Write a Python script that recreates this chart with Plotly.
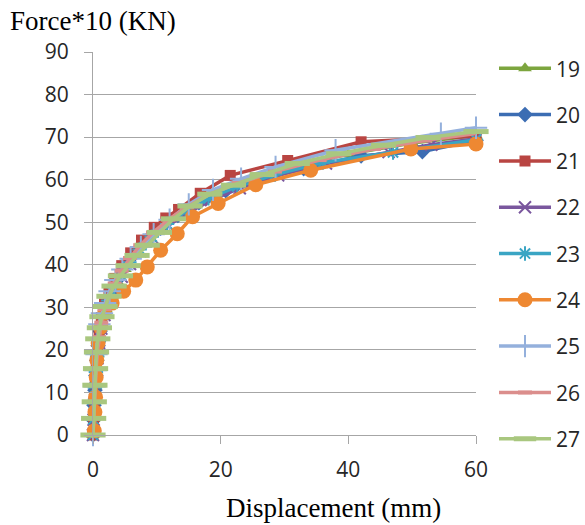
import plotly.graph_objects as go

names = ["19", "20", "21", "22", "23", "24", "25", "26", "27"]

x19 = [0, 0.1, 0.25, 0.4, 0.55, 0.75, 1.0, 1.4, 2.0, 2.8, 3.8, 5.0, 6.5, 8.3, 10.5, 13.2, 16.5, 20.5, 25.5, 32.0, 40.0, 50.0, 60.0]
y19 = [0, 3.8, 7.6, 11.4, 15.2, 19.0, 22.6, 26.2, 29.6, 32.8, 36.0, 39.0, 42.2, 45.4, 48.6, 51.8, 55.0, 57.8, 60.4, 63.2, 66.0, 68.6, 70.4]

x20 = [0, 0.05, 0.15, 0.3, 0.45, 0.6, 0.8, 1.1, 1.5, 2.1, 2.9, 3.9, 5.1, 6.6, 8.4, 10.6, 13.3, 16.6, 20.8, 26.0, 33.0, 42.0, 51.6, 60.0]
y20 = [0, 3.5, 7.0, 10.5, 14.0, 17.5, 21.0, 24.4, 27.6, 30.6, 33.6, 36.6, 39.6, 42.6, 45.6, 48.6, 51.6, 54.6, 57.4, 60.0, 62.6, 65.6, 66.6, 69.2]

x21 = [0, 0.1, 0.2, 0.35, 0.5, 0.7, 0.95, 1.3, 1.8, 2.5, 3.4, 4.5, 5.9, 7.6, 9.6, 11.4, 13.4, 16.8, 21.5, 30.5, 42.0, 60.0]
y21 = [0, 4.0, 8.0, 12.0, 16.0, 20.0, 24.0, 27.6, 30.8, 33.8, 36.8, 39.8, 42.8, 45.8, 48.8, 51.0, 53.0, 56.8, 61.0, 64.5, 68.9, 70.2]

x22 = [0, 0.1, 0.2, 0.35, 0.5, 0.7, 0.95, 1.3, 1.8, 2.5, 3.4, 4.5, 5.8, 7.4, 9.4, 11.8, 14.8, 18.5, 23.0, 29.0, 36.5, 46.3, 53.0, 60.0]
y22 = [0, 3.6, 7.2, 10.8, 14.4, 18.0, 21.6, 25.0, 28.2, 31.2, 34.2, 37.2, 40.2, 43.2, 46.2, 49.2, 52.2, 55.2, 58.0, 61.0, 63.8, 66.5, 68.2, 69.6]

x23 = [0, 0.05, 0.15, 0.3, 0.45, 0.65, 0.9, 1.25, 1.75, 2.4, 3.3, 4.4, 5.7, 7.3, 9.2, 11.6, 14.5, 18.1, 22.6, 28.5, 36.0, 47.0, 60.0]
y23 = [0, 3.7, 7.4, 11.1, 14.8, 18.5, 22.0, 25.4, 28.6, 31.6, 34.6, 37.6, 40.6, 43.6, 46.6, 49.6, 52.6, 55.6, 58.4, 61.2, 64.0, 66.4, 69.4]

x24 = [0.2, 0.3, 0.4, 0.5, 0.6, 0.8, 1.2, 1.8, 3.0, 4.8, 6.7, 8.5, 10.6, 13.2, 15.6, 19.6, 25.5, 34.1, 49.8, 60.0]
y24 = [1.0, 5.4, 8.9, 13.6, 17.6, 21.6, 25.3, 28.6, 31.0, 33.8, 36.4, 39.5, 43.4, 47.3, 51.3, 54.4, 58.8, 62.2, 67.2, 68.4]

x25 = [0, 0.05, 0.15, 0.25, 0.4, 0.55, 0.75, 1.0, 1.4, 1.9, 2.6, 3.5, 4.6, 5.9, 7.5, 9.5, 12.0, 15.0, 18.8, 23.2, 28.6, 38.0, 54.5, 60.0]
y25 = [0, 3.8, 7.6, 11.4, 15.2, 19.0, 22.8, 26.0, 28.6, 31.0, 33.8, 36.4, 38.9, 41.4, 44.2, 47.2, 50.6, 54.2, 57.6, 60.2, 63.0, 66.9, 70.8, 72.2]

x26 = [0, 0.1, 0.2, 0.35, 0.5, 0.7, 0.95, 1.3, 1.8, 2.5, 3.4, 4.5, 5.8, 7.4, 9.4, 11.8, 14.7, 18.3, 22.8, 28.5, 35.5, 44.0, 52.0, 60.6]
y26 = [0, 3.9, 7.8, 11.7, 15.6, 19.5, 23.0, 26.4, 29.6, 32.6, 35.6, 38.6, 41.6, 44.6, 47.6, 50.6, 53.6, 56.6, 59.2, 61.9, 64.6, 67.2, 69.2, 71.0]

x27 = [0, 0.1, 0.2, 0.3, 0.4, 0.55, 0.75, 1.0, 1.4, 1.9, 2.5, 3.3, 4.3, 5.5, 6.9, 8.5, 10.4, 12.6, 15.2, 18.3, 22.0, 26.5, 32.0, 38.5, 45.5, 52.5, 60.0]
y27 = [0, 3.9, 7.8, 11.7, 15.6, 19.5, 22.6, 25.2, 27.8, 30.2, 32.6, 35.0, 37.4, 39.8, 42.2, 44.6, 47.6, 50.8, 53.8, 56.6, 58.7, 61.2, 63.8, 66.1, 68.1, 69.9, 71.3]

xs = [x19, x20, x21, x22, x23, x24, x25, x26, x27]
ys = [y19, y20, y21, y22, y23, y24, y25, y26, y27]

colors = ["#7ca53e", "#3c6db3", "#b94542", "#7a579e", "#3aa5c4", "#ee8832",
          "#94b0dc", "#db8e8c", "#a9c77f"]
symbols = ["triangle-up", "diamond", "square", "x-thin-open", "asterisk-open",
           "circle", "cross-thin-open", "line-ew-open", "line-ew-open"]
msizes = [12, 12, 11, 12, 12, 15, 16, 10, 18]
mlw = [0, 0, 0, 2, 2, 0, 2, 4, 5]

x_ticks = [0, 20, 40, 60]
y_ticks = [0, 10, 20, 30, 40, 50, 60, 70, 80, 90]

fig = go.Figure()
for i, n in enumerate(names):
    fig.add_trace(go.Scatter(
        x=xs[i], y=ys[i], name=n, mode="lines+markers",
        legendgroup=n,
        cliponaxis=False,
        line=dict(color=colors[i], width=3.5),
        marker=dict(symbol=symbols[i], size=msizes[i], color=colors[i],
                    line=dict(color=colors[i], width=mlw[i])),
    ))

tickfont = dict(family="Open Sans", size=21, color="#262626")

fig.update_layout(
    width=585, height=525,
    margin=dict(l=93, r=109, t=52, b=90, autoexpand=False),
    paper_bgcolor="white", plot_bgcolor="white",
    showlegend=True,
    legend=dict(x=1.047, y=1.01, xanchor="left", yanchor="top",
                font=dict(family="Open Sans", size=21, color="#262626"),
                tracegroupgap=16, itemwidth=52, maxheight=480,
                bgcolor="rgba(0,0,0,0)"),
    xaxis=dict(range=[0, 60], tickvals=x_ticks, showgrid=False, zeroline=False,
               showline=True, linecolor="#a6a6a6", linewidth=1.3,
               ticks="outside", ticklen=8, tickcolor="#a6a6a6", tickwidth=1.3,
               ticklabelstandoff=8, tickfont=tickfont),
    yaxis=dict(range=[0, 90], tickvals=y_ticks, showgrid=True,
               gridcolor="#a6a6a6", gridwidth=1.3, zeroline=False,
               showline=True, linecolor="#a6a6a6", linewidth=1.3,
               ticks="outside", ticklen=8, tickcolor="#a6a6a6", tickwidth=1.3,
               ticklabelstandoff=11, tickfont=tickfont),
    annotations=[
        dict(text="Force*10 (KN)", xref="paper", yref="paper", x=-0.222, y=1.08,
             xanchor="left", yanchor="middle", showarrow=False,
             font=dict(family="Liberation Serif", size=27, color="black")),
        dict(text="Displacement (mm)", xref="paper", yref="paper", x=0.628, y=-0.19,
             xanchor="center", yanchor="middle", showarrow=False,
             font=dict(family="Liberation Serif", size=27, color="black")),
    ],
)

fig.write_html("out.html", config={"displayModeBar": False},
               post_script="document.body.style.margin='0';")
